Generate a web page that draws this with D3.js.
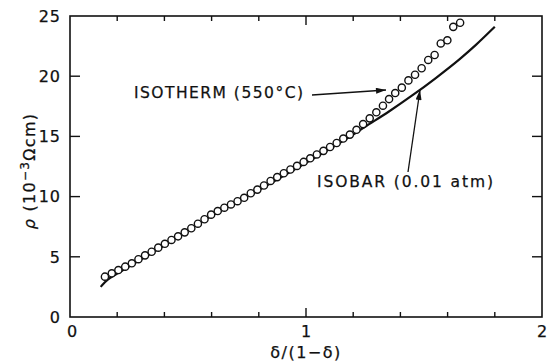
<!DOCTYPE html>
<html>
<head>
<meta charset="utf-8">
<script src="https://cdn.jsdelivr.net/npm/d3@7"></script>
<style>
  body { margin: 0; background: #fff; }
  text { font-family: "DejaVu Sans", "Liberation Sans", Arial, sans-serif; fill: #111; stroke: #111; stroke-width: 0.25px; }
</style>
</head>
<body>
<script>
const svgWidth = 547
const svgHeight = 362

const margin = { top: 16, right: 5, bottom: 45, left: 70 }
const chartWidth = 472
const chartHeight = svgHeight - margin.top - margin.bottom

// isotherm (550°C) measurements, circles
const isoX = [0.148, 0.177, 0.205, 0.234, 0.262, 0.290, 0.318, 0.346, 0.374, 0.402,
  0.430, 0.458, 0.486, 0.514, 0.542, 0.570, 0.598, 0.626, 0.654, 0.682,
  0.710, 0.738, 0.766, 0.794, 0.822, 0.850, 0.878, 0.906, 0.934, 0.962,
  0.990, 1.018, 1.046, 1.074, 1.102, 1.130, 1.158, 1.186, 1.214, 1.242,
  1.270, 1.298, 1.326, 1.352, 1.378, 1.406, 1.434, 1.462, 1.490, 1.518,
  1.545, 1.571, 1.599, 1.624, 1.653]
const isoY = [3.35, 3.63, 3.90, 4.18, 4.46, 4.80, 5.12, 5.42, 5.76, 6.08,
  6.40, 6.70, 7.03, 7.37, 7.75, 8.12, 8.50, 8.80, 9.08, 9.35,
  9.62, 9.90, 10.28, 10.58, 10.92, 11.30, 11.62, 11.94, 12.25, 12.55,
  12.88, 13.18, 13.50, 13.80, 14.12, 14.45, 14.82, 15.15, 15.55, 16.02,
  16.50, 17.00, 17.55, 18.10, 18.60, 19.05, 19.65, 20.12, 20.66, 21.35,
  21.76, 22.72, 22.98, 24.10, 24.44]

// isobar (0.01 atm), solid curve
const barX = [0.13, 0.16, 0.20, 0.40, 0.60, 0.80, 1.00, 1.10, 1.20, 1.25, 1.35, 1.45, 1.55, 1.65, 1.72, 1.80]
const barY = [2.5, 3.1, 3.6, 5.95, 8.4, 10.55, 12.8, 13.95, 15.15, 15.8, 17.05, 18.4, 19.85, 21.4, 22.6, 24.1]

const xTicks = [0, 0.2, 0.4, 0.6, 0.8, 1, 1.2, 1.4, 1.6, 1.8, 2]
const xTickLabels = ["0", "1", "2"]
const yTicks = [0, 5, 10, 15, 20, 25]

const svg = d3.select("body").append("svg")
  .attr("width", svgWidth)
  .attr("height", svgHeight)

const defs = svg.append("defs")
defs.append("marker")
  .attr("id", "head")
  .attr("viewBox", "0 0 10 6")
  .attr("refX", 10).attr("refY", 3)
  .attr("markerWidth", 11).attr("markerHeight", 6)
  .attr("markerUnits", "userSpaceOnUse")
  .attr("orient", "auto")
  .append("path")
  .attr("d", "M0,0 L10,3 L0,6 Z")
  .attr("fill", "#111")

const chartG = svg.append("g")
  .attr("transform", `translate(${margin.left}, ${margin.top})`)

const x = d3.scaleLinear().domain([0, 2]).range([0, chartWidth])
const y = d3.scaleLinear().domain([0, 25]).range([chartHeight, 0])

// frame
chartG.append("rect")
  .attr("width", chartWidth).attr("height", chartHeight)
  .attr("fill", "none").attr("stroke", "#111").attr("stroke-width", 1.6)

const tickLen = d => (Math.abs(d - Math.round(d)) < 1e-6 ? 9 : 5)

// bottom and top ticks
chartG.selectAll(".xt-b").data(xTicks.slice(1, -1)).enter().append("line")
  .attr("x1", d => x(d)).attr("x2", d => x(d))
  .attr("y1", chartHeight).attr("y2", d => chartHeight - tickLen(d))
  .attr("stroke", "#111").attr("stroke-width", 1.4)
chartG.selectAll(".xt-t").data(xTicks.slice(1, -1)).enter().append("line")
  .attr("x1", d => x(d)).attr("x2", d => x(d))
  .attr("y1", 0).attr("y2", d => tickLen(d))
  .attr("stroke", "#111").attr("stroke-width", 1.4)

// left and right ticks
chartG.selectAll(".yt-l").data(yTicks.slice(1, -1)).enter().append("line")
  .attr("x1", 0).attr("x2", 10)
  .attr("y1", d => y(d)).attr("y2", d => y(d))
  .attr("stroke", "#111").attr("stroke-width", 1.4)
chartG.selectAll(".yt-r").data(yTicks.slice(1, -1)).enter().append("line")
  .attr("x1", chartWidth).attr("x2", chartWidth - 10)
  .attr("y1", d => y(d)).attr("y2", d => y(d))
  .attr("stroke", "#111").attr("stroke-width", 1.4)

// tick labels
chartG.selectAll(".yl").data(yTicks).enter().append("text")
  .attr("x", -9).attr("y", d => y(d))
  .attr("dy", "0.36em")
  .attr("text-anchor", "end")
  .style("font-size", "16px").style("letter-spacing", "1px")
  .text(d => d)

chartG.selectAll(".xl").data(xTickLabels).enter().append("text")
  .attr("x", d => x(+d) + (d === "0" ? 2 : 0)).attr("y", chartHeight + 20)
  .attr("text-anchor", "middle")
  .style("font-size", "16px")
  .text(d => d)

// axis titles
svg.append("text")
  .attr("x", margin.left + x(1)).attr("y", 358)
  .attr("text-anchor", "middle")
  .style("font-size", "16px").style("letter-spacing", "1.5px")
  .text("δ/(1−δ)")

svg.append("text")
  .attr("transform", "translate(35, 171) rotate(-90)")
  .attr("text-anchor", "middle")
  .style("font-size", "16px").style("letter-spacing", "1.3px")
  .html("<tspan font-style='italic'>ρ</tspan> (10<tspan dy='-6' font-size='12px'>−3</tspan><tspan dy='6'>Ωcm)</tspan>")

// isobar curve
const line = d3.line()
  .x(d => x(d[0])).y(d => y(d[1]))
  .curve(d3.curveCatmullRom)

chartG.append("path")
  .datum(d3.zip(barX, barY))
  .attr("d", line)
  .attr("fill", "none").attr("stroke", "#111").attr("stroke-width", 2.2)

// isotherm circles
chartG.selectAll(".pt").data(d3.zip(isoX, isoY)).enter().append("circle")
  .attr("cx", d => x(d[0])).attr("cy", d => y(d[1]))
  .attr("r", 3.6)
  .attr("fill", "#fff").attr("stroke", "#111").attr("stroke-width", 1.4)

// annotations
svg.append("text")
  .attr("x", 134).attr("y", 98)
  .attr("textLength", 169).attr("lengthAdjust", "spacing")
  .style("font-size", "15.5px")
  .text("ISOTHERM (550°C)")

svg.append("line")
  .attr("x1", 312).attr("y1", 95).attr("x2", 386).attr("y2", 90)
  .attr("stroke", "#111").attr("stroke-width", 1.3)
  .attr("marker-end", "url(#head)")

svg.append("text")
  .attr("x", 317).attr("y", 187)
  .attr("textLength", 176).attr("lengthAdjust", "spacing")
  .style("font-size", "15.5px")
  .text("ISOBAR (0.01 atm)")

svg.append("line")
  .attr("x1", 408).attr("y1", 172).attr("x2", 420).attr("y2", 90)
  .attr("stroke", "#111").attr("stroke-width", 1.3)
  .attr("marker-end", "url(#head)")
</script>
</body>
</html>
